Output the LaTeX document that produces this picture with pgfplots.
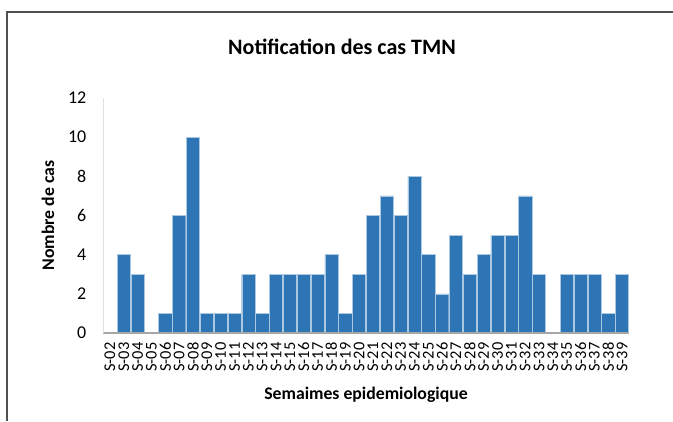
\documentclass[border=0pt]{standalone}
\usepackage{pgfplots}
\pgfplotsset{compat=1.18}
\usepackage{fontspec}
\setmainfont{Carlito}
\definecolor{barblue}{RGB}{46,117,182}
\definecolor{framegray}{RGB}{80,80,80}
\begin{document}
\begin{tikzpicture}
\useasboundingbox (0,0) rectangle (504.75pt,315.75pt);
\begin{axis}[
  at={(77.25pt,66pt)}, anchor=south west,
  scale only axis, width=394.5pt, height=176.25pt,
  xmin=-0.5, xmax=37.5, ymin=0, ymax=12,
  ytick={0,2,4,6,8,10,12},
  xtick={0,...,37},
  xticklabels={S-02,S-03,S-04,S-05,S-06,S-07,S-08,S-09,S-10,S-11,S-12,S-13,S-14,S-15,S-16,S-17,S-18,S-19,S-20,S-21,S-22,S-23,S-24,S-25,S-26,S-27,S-28,S-29,S-30,S-31,S-32,S-33,S-34,S-35,S-36,S-37,S-38,S-39},
  /pgf/number format/assume math mode=true,
  xticklabel style={rotate=90, anchor=east, font=\fontsize{12.3}{13}\selectfont, inner sep=0pt},
  xticklabel shift=7pt,
  yticklabel style={font=\fontsize{13.5}{14}\selectfont, xshift=-9pt},
  major tick length=0pt,
  axis on top,
  axis x line*=bottom, axis y line*=left,
  x axis line style={draw=black!35, line width=1.1pt, -},
  y axis line style={draw=black!12, line width=0.6pt, -},
  ylabel={Nombre de cas},
  xlabel={Semaimes epidemiologique},
  ylabel style={at={(axis description cs:-0.1046,0.5)}, rotate=0, anchor=center, font=\bfseries\fontsize{13.3}{14}\selectfont},
  xlabel style={at={(axis description cs:0.5,-0.262)}, anchor=center, font=\bfseries\fontsize{13.3}{14}\selectfont},
  title={Notification des cas TMN},
  title style={at={(axis description cs:0.4544,1.183)}, anchor=center, font=\bfseries\fontsize{16.5}{18}\selectfont},
  clip=false,
]
\addplot[ybar, bar width=9.9pt, fill=barblue, draw=barblue!40!white, line width=0.3pt] coordinates {
(0,0) (1,4) (2,3) (3,0) (4,1) (5,6) (6,10) (7,1) (8,1) (9,1)
(10,3) (11,1) (12,3) (13,3) (14,3) (15,3) (16,4) (17,1) (18,3) (19,6)
(20,7) (21,6) (22,8) (23,4) (24,2) (25,5) (26,3) (27,4) (28,5) (29,5)
(30,7) (31,3) (32,0) (33,3) (34,3) (35,3) (36,1) (37,3)
};
\end{axis}
\draw[color=framegray, line width=1.5pt] (5.6pt,0pt) -- (5.6pt,306.4pt) -- (504.75pt,306.4pt);
\end{tikzpicture}
\end{document}
